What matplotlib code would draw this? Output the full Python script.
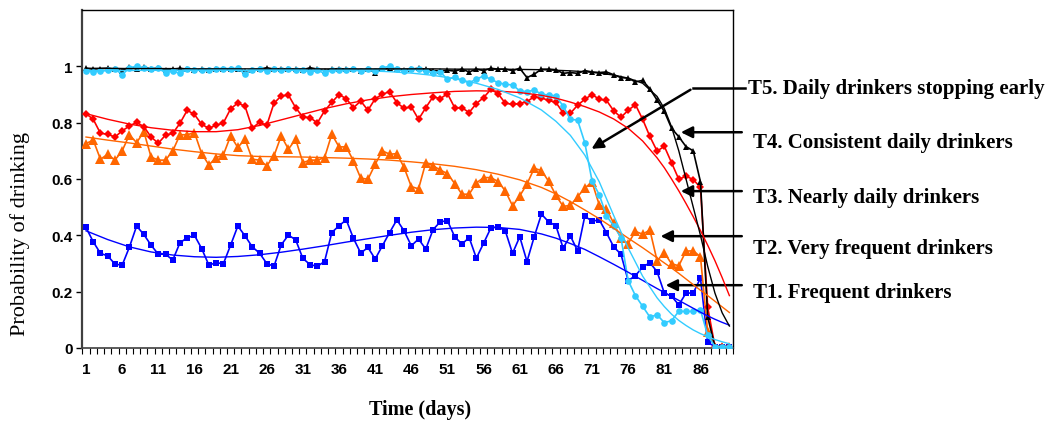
import numpy as np
import matplotlib.pyplot as plt

# observed daily probabilities, days 1..90
days = np.arange(1, 91)

t1_obs = [.428, .377, .336, .327, .298, .294, .358, .433, .403, .365, .333, .333, .312, .374, .391, .400, .353, .294, .303, .299, .365, .433, .398,
          .359, .337, .300, .290, .366, .401, .384, .318, .296, .290, .307, .410, .434, .455, .389, .337, .357, .316, .363, .410, .455, .416,
          .363, .387, .351, .420, .448, .452, .395, .369, .392, .319, .372, .426, .430, .416, .336, .395, .307, .395, .475, .448, .434, .355,
          .398, .345, .468, .450, .455, .409, .359, .333, .239, .257, .287, .303, .271, .195, .184, .153, .195, .195, .248,
          .020, .005, .005, .005]

t2_obs = [.726, .738, .670, .688, .667, .700, .757, .729, .768, .678, .667, .667, .700, .757, .757, .765, .690, .650, .676, .686, .753, .712,
          .741, .670, .667, .647, .682, .753, .706, .741, .658, .667, .667, .676, .759, .714, .714, .664, .603, .599, .652, .700, .688, .690, .641,
          .573, .565, .658, .647, .632, .619, .584, .546, .546, .586, .605, .605, .591, .558, .505, .540, .582, .638, .630, .592, .542, .503,
          .506, .537, .568, .589, .508, .493, .443, .389, .371, .414, .404, .419, .310, .338, .299, .292, .344, .345, .324,
          .056, .005, .005, .005]

t3_obs = [.832, .812, .762, .759, .749, .771, .788, .801, .786, .749, .727, .756, .762, .798, .844, .829, .794, .780, .791, .799, .849, .870,
          .858, .780, .802, .790, .869, .895, .898, .853, .820, .818, .799, .842, .872, .900, .885, .853, .877, .844, .885, .901, .910, .871, .851,
          .856, .812, .853, .892, .885, .903, .853, .853, .836, .868, .889, .918, .903, .869, .865, .868, .875, .892, .888, .879, .872,
          .835, .833, .862, .883, .900, .883, .879, .842, .819, .844, .864, .812, .751, .699, .716, .658, .599, .610, .598, .570,
          .145, .005, .005, .005]

t4_obs = [.993, .990, .992, .993, .990, .985, .998, .990, .998, .990,
          .995, .988, .990, .993, .990, .986, .990, .988, .990, .992,
          .990, .992, .983, .988, .990, .995, .990, .992, .990, .990,
          .988, .995, .990, .985, .990, .992, .990, .990, .985, .990,
          .978, .990, .993, .990, .988, .990, .993, .990, .985, .983,
          .986, .983, .990, .980, .990, .985, .993, .990, .990, .985,
          .993, .960, .972, .990, .990, .988, .975, .978, .975, .985,
          .980, .978, .980, .970, .960, .958, .945, .950, .920, .880,
          .840, .780, .750, .715, .700, .590, .110, .005, .005, .005]

t5_obs = [.983, .981, .983, .986, .992, .970, .995, 1.0, .993, .989, .993, .977, .983, .975, .989, .986, .986, .986, .992, .992, .992, .993, .972,
          .987, .992, .983, .989, .986, .992, .986, .986, .980, .986, .975, .986, .986, .986, .990, .985, .990, .985, .995, 1.0, .990,
          .983, .989, .989, .983, .978, .980, .954, .962, .950, .942, .954, .966, .954, .942, .936, .934, .913, .910, .916, .901, .898, .895,
          .859, .812, .809, .729, .593, .544, .469, .434, .392, .239, .186, .148, .110, .118, .090, .097, .130, .130, .130, .135,
          .045, .005, .005, .005]

# fitted trajectories read at these days
fit_days = [1, 4, 7, 10, 13, 16, 19, 22, 25, 28, 31, 34, 37, 40, 43, 46, 49, 52, 55, 58, 61, 64, 66, 68, 70,
            72, 74, 76, 78, 80, 81, 82, 83, 84, 85, 86, 87, 88, 89, 90]

t1_fit = [.416, .385, .359, .341, .330, .324, .322, .325, .331, .340, .351, .363, .376, .388, .400, .411, .420, .426, .429, .428,
          .421, .405, .390, .371, .350, .324, .297, .269, .240, .211, .197, .183, .169, .155, .141, .127, .114, .102, .091, .081]
t2_fit = [.749, .738, .728, .717, .706, .697, .689, .683, .680, .679, .678, .676, .674, .671, .667, .661, .654, .645, .633, .617,
          .597, .570, .547, .520, .490, .459, .425, .390, .356, .320, .302, .284, .265, .245, .225, .205, .186, .166, .146, .126]
t3_fit = [.832, .812, .795, .782, .773, .768, .768, .775, .790, .810, .830, .850, .867, .881, .892, .900, .906, .911, .913, .912,
          .907, .897, .887, .873, .857, .838, .813, .780, .735, .675, .640, .600, .558, .513, .466, .417, .365, .310, .250, .186]
t4_fit = [.993, .993, .992, .992, .992, .991, .991, .991, .991, .991, .991, .991, .991, .991, .991, .991, .991, .990, .990, .990,
          .989, .988, .986, .984, .981, .976, .969, .958, .940, .893, .850, .785, .700, .600, .500, .400, .290, .195, .125, .078]
t5_fit = [.985, .985, .985, .986, .986, .986, .986, .986, .986, .986, .986, .985, .985, .984, .981, .976, .968, .956, .940, .918,
          .888, .845, .805, .755, .685, .590, .470, .355, .255, .178, .147, .120, .098, .080, .064, .051, .040, .030, .022, .015]

labels = ['T5. Daily drinkers stopping early', 'T4. Consistent daily drinkers',
          'T3. Nearly daily drinkers', 'T2. Very frequent drinkers', 'T1. Frequent drinkers']

W, H = 1050, 431
fig = plt.figure(figsize=(W / 100, H / 100), dpi=100)
ax = fig.add_axes([82.4 / W, 1 - 349 / H, (733 - 82.4) / W, (349 - 11) / H])

series = [
    (t1_obs, t1_fit, '#0000FF', 's', 5.0),
    (t2_obs, t2_fit, '#FF6600', '^', 6.5),
    (t3_obs, t3_fit, '#FF0000', 'D', 4.3),
    (t4_obs, t4_fit, '#000000', '^', 5.0),
    (t5_obs, t5_fit, '#33CCFF', 'o', 4.8),
]
for obs, fit, col, mk, ms in series:
    ax.plot(days, obs, color=col, marker=mk, markersize=ms, lw=1.2,
            markeredgewidth=0, zorder=3)
for obs, fit, col, mk, ms in series:
    ax.plot(fit_days, fit, color=col, lw=1.0, zorder=4)

ax.set_xlim(0.5, 90.5)
ax.set_ylim(0, 1.2)
ax.set_yticks([0, 0.2, 0.4, 0.6, 0.8, 1.0])
ax.set_yticklabels(['0', '0.2', '0.4', '0.6', '0.8', '1'])
ax.set_xticks(np.arange(1, 87, 5))
ax.set_xticks(np.arange(0.5, 91, 1), minor=True)
ax.tick_params(axis='x', which='major', length=0, pad=10)
ax.tick_params(axis='x', which='minor', length=4, direction='out', width=0.8)
ax.tick_params(axis='y', length=4, direction='out', width=1, pad=3)
for lab in ax.get_xticklabels() + ax.get_yticklabels():
    lab.set_fontfamily('Liberation Sans')
    lab.set_fontweight('bold')
    lab.set_fontsize(11)
ax.spines['left'].set_linewidth(1.6)
ax.spines['left'].set_color('#404040')
ax.spines['bottom'].set_linewidth(1.2)
ax.spines['bottom'].set_color('#404040')
ax.spines['top'].set_linewidth(1.0)
ax.spines['right'].set_linewidth(1.0)

fig.text(20 / W, 1 - 234 / H, 'Probability of drinking', rotation=90,
         ha='center', va='center', fontsize=16, family='Liberation Serif')
fig.text(420 / W, 1 - 410 / H, 'Time (days)', ha='center', va='center',
         fontsize=14.5, family='Liberation Serif', fontweight='bold')

# labels and arrows (data coordinates, outside the axes)
arrow = dict(arrowstyle='-|>', color='black', lw=1.8, mutation_scale=17)
ax.plot([92.1, 84.95], [0.922, 0.922], color='black', lw=1.8, clip_on=False)
ax.annotate('', xy=(70.6, 0.702), xytext=(84.95, 0.922), arrowprops=arrow,
            annotation_clip=False)
tips = [(82.9, 0.766), (82.9, 0.557), (80.1, 0.397), (80.8, 0.223)]
for (tx, ty) in tips:
    ax.annotate('', xy=(tx, ty), xytext=(92.1, ty), arrowprops=arrow,
                annotation_clip=False)

label_pos = [(92.6, 0.922), (93.3, 0.732), (93.3, 0.535), (93.3, 0.356), (93.3, 0.200)]
for txt, (lx, ly) in zip(labels, label_pos):
    ax.text(lx, ly, txt, ha='left', va='center', fontsize=15,
            family='Liberation Serif', fontweight='bold', clip_on=False)

fig.savefig('out.png', dpi=100)
